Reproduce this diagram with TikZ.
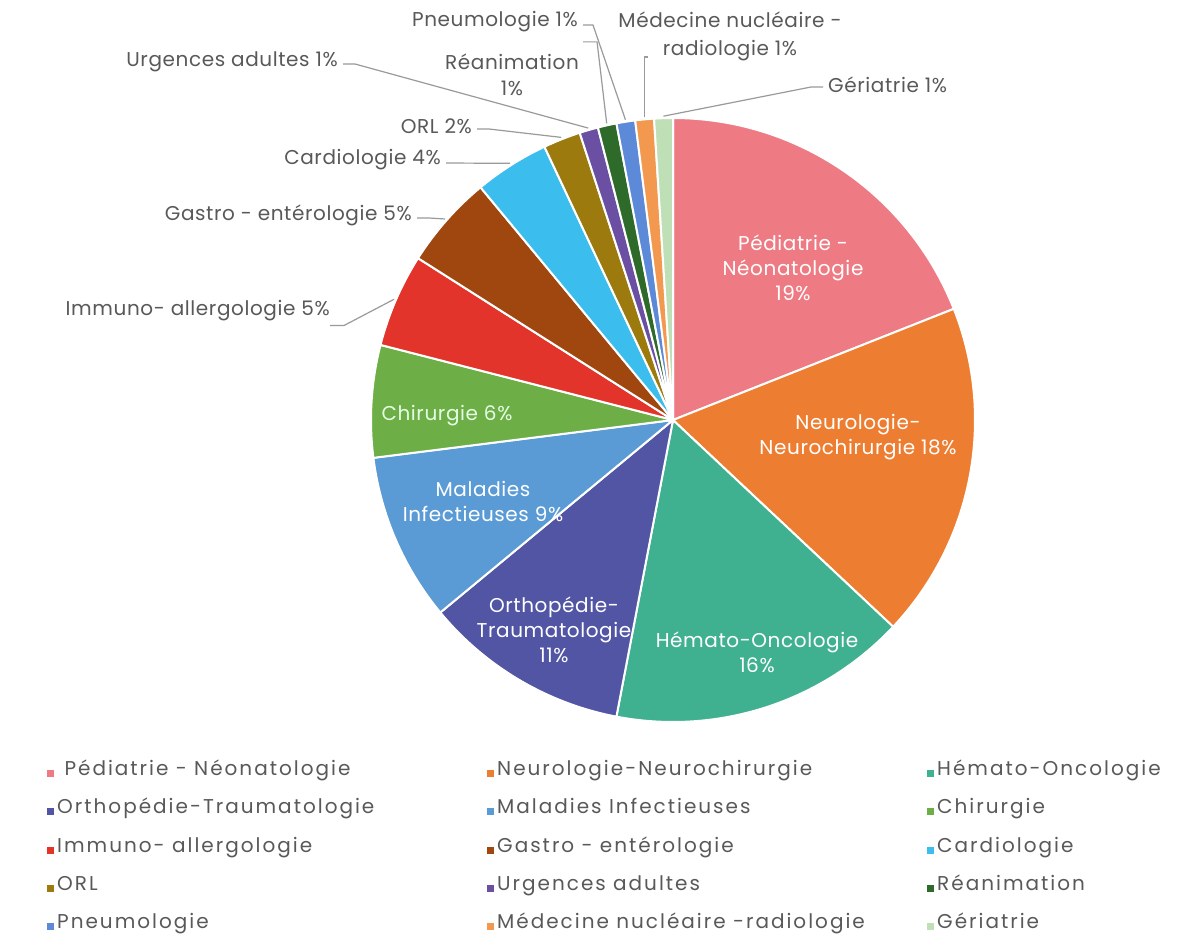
\documentclass[tikz,border=0pt]{standalone}
\usepackage{fontspec}
\setmainfont{Poppins}
\newfontfamily\lblfont[LetterSpace=3]{Poppins}
\newfontfamily\legfont[LetterSpace=10]{Poppins}
\definecolor{ped}{HTML}{EE7B83}
\definecolor{neu}{HTML}{ED7D31}
\definecolor{hem}{HTML}{40B190}
\definecolor{ort}{HTML}{5155A4}
\definecolor{mal}{HTML}{5A9BD5}
\definecolor{chi}{HTML}{6DAE47}
\definecolor{imm}{HTML}{E2342B}
\definecolor{gas}{HTML}{A0470F}
\definecolor{car}{HTML}{3BBDED}
\definecolor{orl}{HTML}{9C7A0E}
\definecolor{urg}{HTML}{6B4FA2}
\definecolor{rea}{HTML}{2E6B2A}
\definecolor{pne}{HTML}{5D8AD8}
\definecolor{med}{HTML}{F3994F}
\definecolor{ger}{HTML}{BFE0B6}
\definecolor{txtgray}{HTML}{595959}
\definecolor{leadgray}{HTML}{9A9A9A}
\begin{document}
\begin{tikzpicture}[x=1pt,y=-1pt,
  lbl/.style={inner sep=0pt, text=txtgray, align=center, font=\lblfont\fontsize{20}{26}\selectfont},
  inlbl/.style={inner sep=0pt, text=white, align=center, font=\lblfont\fontsize{20}{25}\selectfont},
  lead/.style={draw=leadgray, line width=1.2pt},
  wedge/.style={draw=white, line width=2pt, line join=round},
  legsq/.style={minimum size=7pt, inner sep=0pt},
  legtxt/.style={anchor=west, inner sep=0pt, text=txtgray, text height=0.72em, text depth=0.22em, font=\legfont\fontsize{20}{22}\selectfont}]
\useasboundingbox (0,0) rectangle (1187,951);
\fill[white] (0,0) rectangle (1187,951);
\coordinate (C) at (673,420);
\def\R{302pt}
% wedges
\foreach \a/\b/\col in {0/19/ped, 19/37/neu, 37/53/hem, 53/64/ort, 64/73/mal, 73/79/chi, 79/84/imm, 84/89/gas, 89/93/car, 93/95/orl, 95/96/urg, 96/97/rea, 97/98/pne, 98/99/med, 99/100/ger}
  \filldraw[wedge, fill=\col] (C) -- ++({90-3.6*\a}:\R) arc[start angle={90-3.6*\a}, end angle={90-3.6*\b}, radius=\R] -- cycle;
% inner labels
\node[inlbl] (tped) at (793,268) {Pédiatrie -\\Néonatologie\\19\%};
\node[inlbl] (tneu) at (858,437) {Neurologie-\\Neurochirurgie 18\%};
\node[inlbl] (them) at (757,652) {Hémato-Oncologie\\16\%};
\node[inlbl] (tort) at (554,630) {Orthopédie-\\Traumatologie\\11\%};
\node[inlbl] (tmal) at (483,502) {Maladies\\Infectieuses 9\%};
\node[inlbl, text=green!10!white] (tchi) at (447,416) {Chirurgie 6\%};
% leader end points on the slices
\path (C) ++(156.6:304pt) coordinate (eImm);
\path (C) ++(138.6:304pt) coordinate (eGas);
\path (C) ++(122.4:304pt) coordinate (eCar);
\path (C) ++(111.6:304pt) coordinate (eOrl);
\path (C) ++(106.2:304pt) coordinate (eUrg);
\path (C) ++(102.6:304pt) coordinate (eRea);
\path (C) ++(99.0:304pt) coordinate (ePne);
\path (C) ++(95.4:304pt) coordinate (eMed);
\path (C) ++(91.8:304pt) coordinate (eGer);
% outer labels
\node[lbl, anchor=east] (lImm) at (330,311) {Immuno- allergologie 5\%};
\node[lbl, anchor=east] (lGas) at (412,215) {Gastro - entérologie 5\%};
\node[lbl, anchor=east] (lCar) at (441,160) {Cardiologie 4\%};
\node[lbl, anchor=east] (lOrl) at (472,126) {ORL 2\%};
\node[lbl, anchor=east] (lUrg) at (338,62) {Urgences adultes 1\%};
\node[lbl] (lRea) at (512,75) {Réanimation\\1\%};
\node[lbl, anchor=east] (lPne) at (578,22) {Pneumologie 1\%};
\node[lbl, font=\lblfont\fontsize{20}{28}\selectfont] (lMed) at (730,36) {Médecine nucléaire -\\radiologie 1\%};
\node[lbl, anchor=west] (lGer) at (828,85) {Gériatrie 1\%};
% leaders
\draw[lead] (lImm.south east) ++(0,4) -- ++(14,0) -- (eImm);
\draw[lead] (lGas.east) ++(5,3) -- ++(12,0) -- (eGas);
\draw[lead] (lCar.east) ++(5,3) -- (eCar);
\draw[lead] (lOrl.east) ++(5,3) -- ++(12,0) -- (eOrl);
\draw[lead] (lUrg.east) ++(5,2) -- ++(12,0) -- (eUrg);
\draw[lead] (lRea.north east) ++(4,-12) -- ++(14,0) -- (eRea);
\draw[lead] (lPne.east) ++(5,3) -- ++(10,0) -- (ePne);
\draw[lead] (eMed) -- (eMed |- 0,57) -- ++(4,0);
\draw[lead] (lGer.west) ++(-5,2) -- ++(-12,0) -- (eGer);
% legend
\foreach \x/\y/\col/\t [count=\i] in {
  50/773/ped/{\ Pédiatrie - Néonatologie}, 490/773/neu/{Neurologie-Neurochirurgie}, 930/773/hem/{Hémato-Oncologie},
  50/811/ort/{Orthopédie-Traumatologie}, 490/811/mal/{Maladies Infectieuses}, 930/811/chi/{Chirurgie},
  50/850/imm/{Immuno- allergologie}, 490/850/gas/{Gastro - entérologie}, 930/850/car/{Cardiologie},
  50/888/orl/{ORL}, 490/888/urg/{Urgences adultes}, 930/888/rea/{Réanimation},
  50/926/pne/{Pneumologie}, 490/926/med/{Médecine nucléaire -radiologie}, 930/926/ger/{Gériatrie}}
{
  \node[legsq, fill=\col] (sq\i) at (\x,\y) {};
  \node[legtxt] (lg\i) at (\x+7,\y) {\t};
}
\end{tikzpicture}
\end{document}
